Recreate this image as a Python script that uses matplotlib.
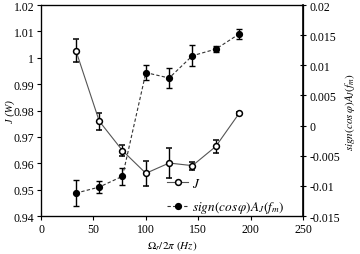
import matplotlib
matplotlib.use("Agg")
import matplotlib.pyplot as plt

plt.rcParams['font.family'] = ['Liberation Serif', 'DejaVu Serif']
plt.rcParams['mathtext.fontset'] = 'stix'

# modulation frequency (Hz)
freq = [33.3, 55.5, 77.7, 100.0, 122.2, 144.4, 166.7, 188.9]

# left axis: J (W)
J = [1.0027, 0.9760, 0.9648, 0.9562, 0.9601, 0.9591, 0.9664, 0.9789]
J_err = [0.0044, 0.0032, 0.0020, 0.0048, 0.0057, 0.0015, 0.0025, 0.0004]

# right axis: sign(cos phi) A_J(f_m)
A = [-0.0112, -0.0102, -0.0084, 0.0088, 0.0079, 0.0116, 0.0127, 0.0152]
A_err = [0.0022, 0.0010, 0.0014, 0.0012, 0.0016, 0.0017, 0.0005, 0.0008]

fig = plt.figure(figsize=(3.6, 2.55), dpi=100)
ax = fig.add_axes([0.114, 0.149, 0.728, 0.827])
ax2 = ax.twinx()

l1 = ax.errorbar(freq, J, yerr=J_err, fmt='-o', color='#555555', mfc='white',
                 mec='black', ecolor='black', ms=4.2, mew=1.1, lw=0.8,
                 capsize=2.2, elinewidth=1.0, capthick=1.0, zorder=3)
l2 = ax2.errorbar(freq, A, yerr=A_err, fmt='--o', color='#333333', mfc='black',
                  mec='black', ecolor='black', ms=4.2, lw=0.8,
                  capsize=2.2, elinewidth=1.0, capthick=1.0, dashes=(3, 2))

ax.set_xlim(0, 250)
ax.set_ylim(0.94, 1.02)
ax2.set_ylim(-0.015, 0.02)
ax.set_xticks([0, 50, 100, 150, 200, 250])
ax.set_yticks([0.94, 0.95, 0.96, 0.97, 0.98, 0.99, 1.0, 1.01, 1.02])
ax.set_yticklabels(['0.94', '0.95', '0.96', '0.97', '0.98', '0.99', '1', '1.01', '1.02'])
ax2.set_yticks([-0.015, -0.01, -0.005, 0, 0.005, 0.01, 0.015, 0.02])
ax2.set_yticklabels(['-0.015', '-0.01', '-0.005', '0', '0.005', '0.01', '0.015', '0.02'])

ax.tick_params(labelsize=8.5, direction='out', length=3, width=0.8, pad=2)
ax2.tick_params(labelsize=8.5, direction='inout', length=5, width=0.8, pad=2)
for s in ax.spines.values():
    s.set_linewidth(0.9)
ax2.spines['right'].set_linewidth(1.2)

ax.set_xlabel(r'$\Omega_r/2\pi$ $(Hz)$', fontsize=8, labelpad=2)
ax.set_ylabel('J (W)', fontsize=7.5, style='italic')
ax.yaxis.set_label_coords(-0.1, 0.5)
ax2.set_ylabel(r'$sign(cos\,\varphi)A_J(f_m)$', fontsize=8, labelpad=2)

leg = ax.legend([l1[0], l2[0]], [r'$J$', r'$sign(cos\,\varphi)A_J(f_m)$'],
                loc='lower right', bbox_to_anchor=(0.96, -0.035), frameon=False,
                fontsize=9.5, handlelength=1.6, handletextpad=0.3,
                labelspacing=0.75, borderaxespad=0.2)

fig.savefig('out.png', dpi=100)
